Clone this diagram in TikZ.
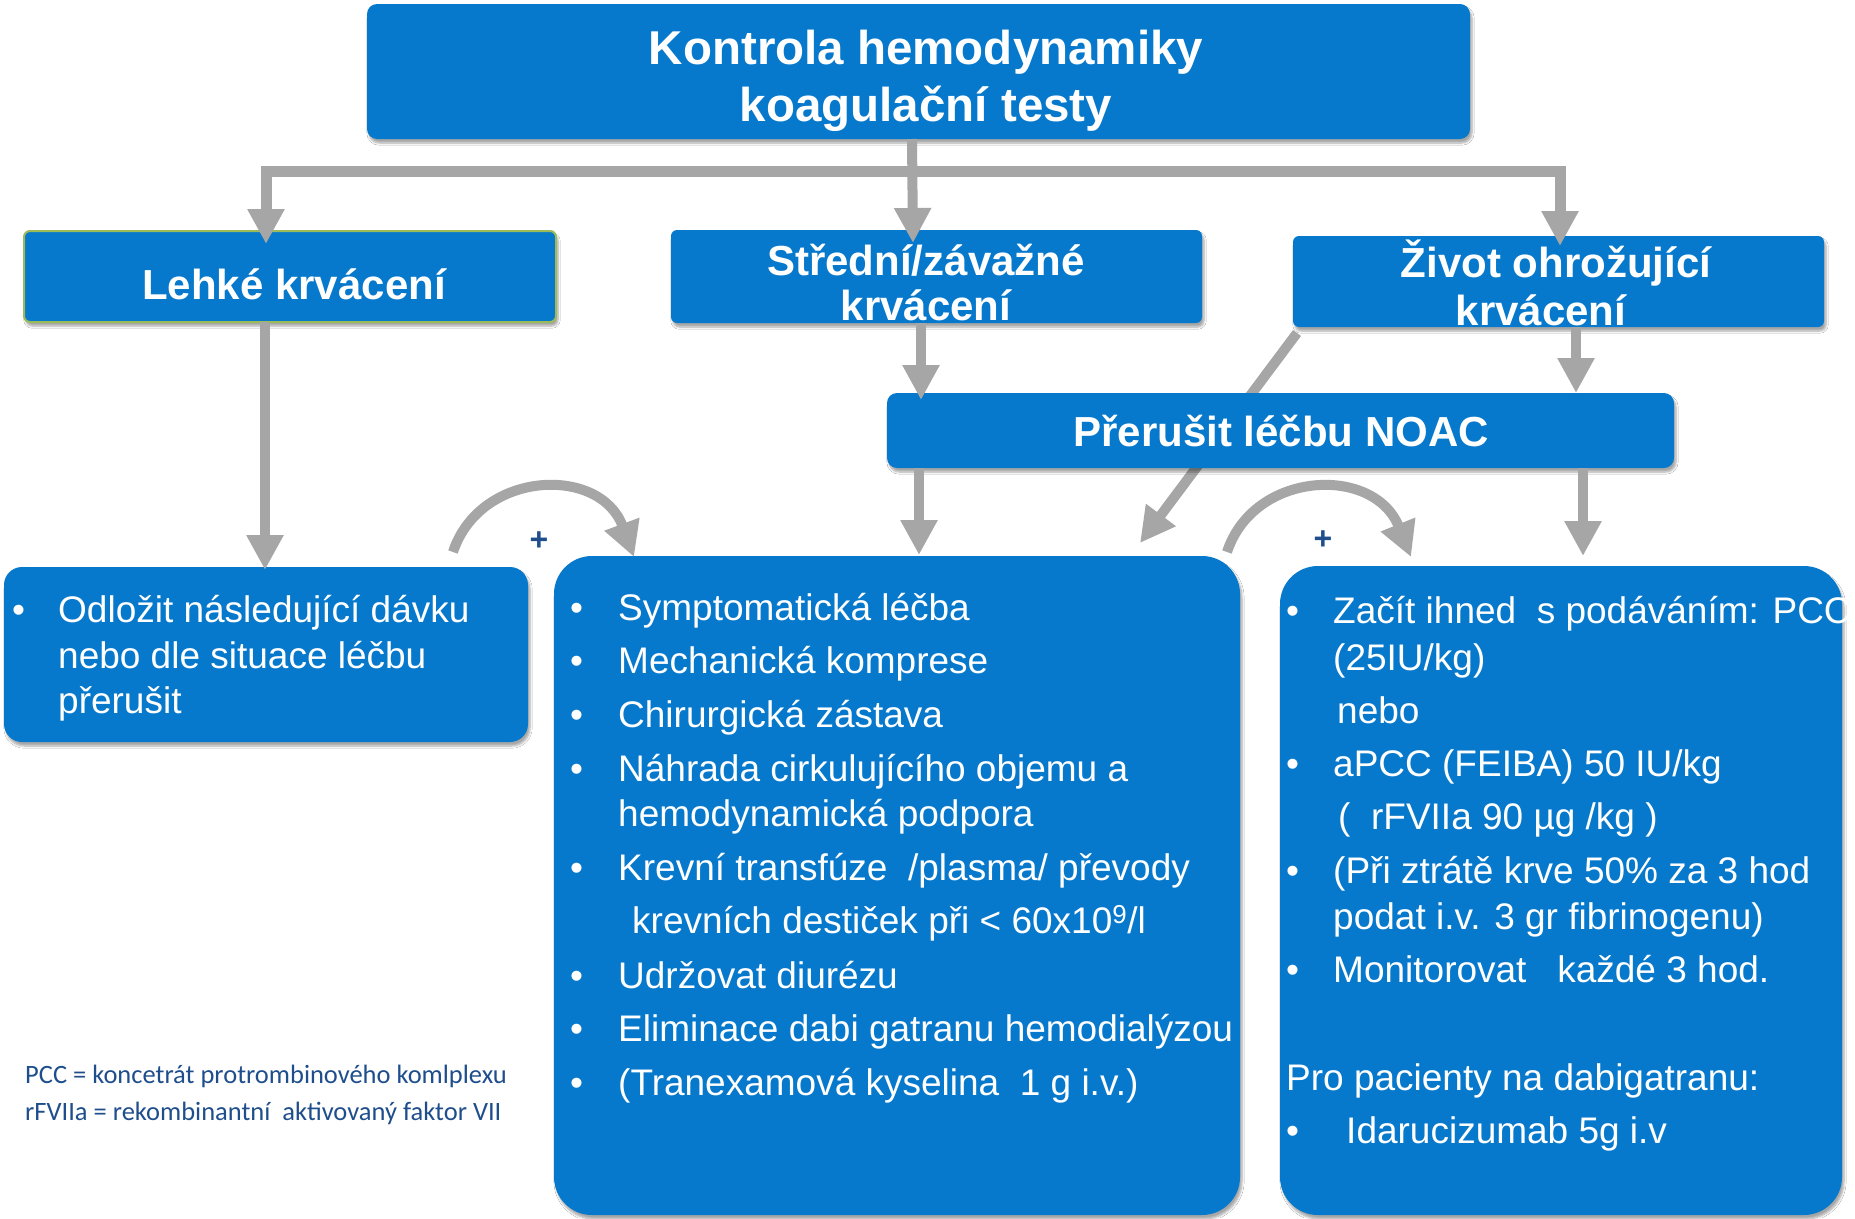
\documentclass[tikz,border=0pt]{standalone}
\usepackage{fontspec}
\setmainfont{Liberation Sans}
\newfontfamily\carfont{Carlito}
\usetikzlibrary{arrows.meta,shadows.blur}
\definecolor{nblue}{RGB}{7,121,204}
\definecolor{agray}{RGB}{166,166,166}
\definecolor{fnblue}{RGB}{31,78,140}
\definecolor{lgreen}{RGB}{155,187,89}
\begin{document}
\begin{tikzpicture}[x=1pt,y=-1pt,
 box/.style={fill=nblue, anchor=north west, inner sep=0pt, outer sep=0pt,
   blur shadow={shadow xshift=2pt,shadow yshift=-4pt,shadow blur steps=6,shadow opacity=35}},
 conn/.style={draw=agray, line width=10pt},
 arr/.style={conn, -{Triangle[width=35pt,length=35pt]}},
 hdr/.style={text=white, font=\fontsize{42}{45}\selectfont\bfseries, inner sep=0pt, anchor=base},
 ttl/.style={text=white, font=\fontsize{47.5}{57}\selectfont\bfseries, inner sep=0pt, anchor=base},
 txt/.style={text=white, font=\fontsize{37}{45}\selectfont, inner sep=0pt, anchor=base west},
 fn/.style={text=fnblue, font=\carfont\fontsize{26.5}{32}\selectfont, inner sep=0pt, anchor=base west},
 plus/.style={text=fnblue, font=\fontsize{32}{34}\selectfont\bfseries, inner sep=0pt},
]
\useasboundingbox[fill=white] (0,0) rectangle (1855,1218);

% header boxes
\node[box, rounded corners=10pt, minimum width=1103pt, minimum height=135pt] (top) at (367,4) {};
\node[box, draw=lgreen, line width=2pt, rounded corners=6pt, minimum width=532pt, minimum height=91pt] (lehke) at (24,231) {};
\node[box, rounded corners=6pt, minimum width=531pt, minimum height=93pt] (stred) at (671,230) {};
\node[box, rounded corners=6pt, minimum width=531pt, minimum height=91pt] (zivot) at (1293,236) {};

% diagonal connector passing behind the NOAC box
\coordinate (tipD) at (1140,543);
\draw[arr] ([xshift=4pt,yshift=-6pt]zivot.south west) -- (tipD);

\node[box, rounded corners=10pt, minimum width=787pt, minimum height=75pt] (prerusit) at (887,393) {};
\node[box, rounded corners=18pt, minimum width=524pt, minimum height=175pt] (odlozit) at (4,567) {};
\node[box, rounded corners=38pt, minimum width=686pt, minimum height=659pt] (mid) at (554,556) {};
\node[box, rounded corners=38pt, minimum width=562pt, minimum height=649pt] (right) at (1280,566) {};

% header texts
\node[ttl] (t1) at (926,64) {Kontrola hemodynamiky};
\node[ttl] (t2) at (926,121) {koagulační testy};
\node[hdr] (l1) at (294,299) {Lehké krvácení};
\node[hdr] (s1) at (926,275) {Střední/závažné};
\node[hdr] (s2) at (926,320) {krvácení};
\node[hdr] (z1) at (1556,277) {Život ohrožující};
\node[hdr] (z2) at (1541,325) {krvácení};
\node[hdr] (p1) at (1281,446) {Přerušit léčbu NOAC};

% connectors
\coordinate (ctop) at (912,139);
\coordinate (barC) at (912,171);
\coordinate (tipS) at (913,243);
\coordinate (tipL) at (266,244);
\coordinate (tipZ) at (1560,246);
\coordinate (tipO) at (265,570);
\coordinate (tipP1) at (921,400);
\coordinate (tipP2) at (1576,393);
\coordinate (tipM) at (919,555);
\coordinate (tipR) at (1583,556);
\draw[arr] (ctop) -- (tipS);
\draw[arr, line width=11pt] (barC) -| (tipL);
\draw[arr, line width=11pt] (barC) -| (tipZ);
\draw[arr] (lehke.south -| tipO) -- (tipO);
\draw[arr] (stred.south -| tipP1) -- (tipP1);
\draw[arr] (zivot.south -| tipP2) -- (tipP2);
\draw[arr] (prerusit.south -| tipM) -- (tipM);
\draw[arr] (prerusit.south -| tipR) -- (tipR);

% curved "+" arrows
\coordinate (cl0) at (453,552);
\coordinate (cl1) at (634,557);
\coordinate (cr0) at (1227,552);
\coordinate (cr1) at (1411,557);
\draw[arr] (cl0) .. controls (480,470) and (600,465) .. (cl1);
\draw[arr] (cr0) .. controls (1254,470) and (1374,465) .. (cr1);
\node[plus] (pl1) at (539,541) {+};
\node[plus] (pl2) at (1323,540) {+};

% left box text
\node[txt] (ob) at (12,622) {•};
\node[txt] (o1) at (58,622) {Odložit následující dávku};
\node[txt] (o2) at (58,668) {nebo dle situace léčbu};
\node[txt] (o3) at (58,713) {přerušit};

% middle box text
\node[txt] (mb1) at (570,620) {•};
\node[txt] (m1) at (618,620) {Symptomatická léčba};
\node[txt] (mb2) at (570,673) {•};
\node[txt] (m2) at (618,673) {Mechanická komprese};
\node[txt] (mb3) at (570,727) {•};
\node[txt] (m3) at (618,727) {Chirurgická zástava};
\node[txt] (mb4) at (570,781) {•};
\node[txt] (m4) at (618,781) {Náhrada cirkulujícího objemu a};
\node[txt] (m4b) at (618,826) {hemodynamická podpora};
\node[txt] (mb5) at (570,880) {•};
\node[txt] (m5) at (618,880) {Krevní transfúze~~/plasma/ převody};
\node[txt] (m5b) at (632,933) {krevních destiček při < 60x10\textsuperscript{9}/l};
\node[txt] (mb6) at (570,988) {•};
\node[txt] (m6) at (618,988) {Udržovat diurézu};
\node[txt] (mb7) at (570,1041) {•};
\node[txt] (m7) at (618,1041) {Eliminace dabi gatranu hemodialýzou};
\node[txt] (mb8) at (570,1095) {•};
\node[txt] (m8) at (618,1095) {(Tranexamová kyselina~~1 g i.v.)};

% right box text
\node[txt] (rb1) at (1286,623) {•};
\node[txt] (r1) at (1333,623) {Začít ihned~~s podáváním: PCC};
\node[txt] (r1b) at (1333,670) {(25IU/kg)};
\node[txt] (r1c) at (1337,723) {nebo};
\node[txt] (rb2) at (1286,776) {•};
\node[txt] (r2) at (1333,776) {aPCC (FEIBA) 50 IU/kg};
\node[txt] (r2b) at (1338,829) {(~~rFVIIa 90 µg /kg )};
\node[txt] (rb3) at (1286,883) {•};
\node[txt] (r3) at (1333,883) {(Při ztrátě krve 50\% za 3 hod};
\node[txt] (r3b) at (1333,929) {podat i.v. 3 gr fibrinogenu)};
\node[txt] (rb4) at (1286,982) {•};
\node[txt] (r4) at (1333,982) {Monitorovat~~~každé 3 hod.};
\node[txt] (r5) at (1286,1090) {Pro pacienty na dabigatranu:};
\node[txt] (rb6) at (1286,1143) {•};
\node[txt] (r6) at (1346,1143) {Idarucizumab 5g i.v};

% footnotes
\node[fn] (f1) at (25,1083) {PCC = koncetrát protrombinového komlplexu};
\node[fn] (f2) at (25,1120) {rFVIIa = rekombinantní~~aktivovaný faktor VII};
\end{tikzpicture}
\end{document}
